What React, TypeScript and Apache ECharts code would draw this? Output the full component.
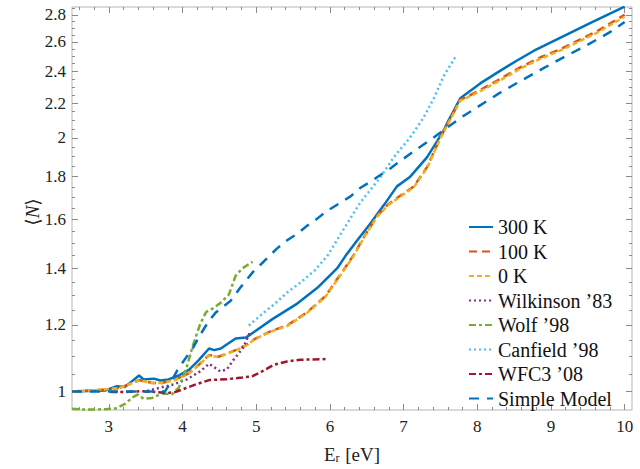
import React, { useEffect, useRef } from "react";
import * as echarts from "echarts";

// ---- tick labels ----
const xMajorTicks = [3, 4, 5, 6, 7, 8, 9, 10];
const xMinorTicks = [2.6, 2.8, 3.2, 3.4, 3.6, 3.8, 4.2, 4.4, 4.6, 4.8, 5.2, 5.4, 5.6, 5.8, 6.2, 6.4, 6.6, 6.8, 7.2, 7.4, 7.6, 7.8, 8.2, 8.4, 8.6, 8.8, 9.2, 9.4, 9.6, 9.8];
const yMajorTicks = [1, 1.2, 1.4, 1.6, 1.8, 2, 2.2, 2.4, 2.6, 2.8];
const yMinorTicks = [1.05, 1.1, 1.15, 1.25, 1.3, 1.35, 1.45, 1.5, 1.55, 1.65, 1.7, 1.75, 1.85, 1.9, 1.95, 2.05, 2.1, 2.15, 2.25, 2.3, 2.35, 2.45, 2.5, 2.55, 2.65, 2.7, 2.75, 2.85];

// ---- series (E_r [eV], <N>) ----
const k300: [number, number][] = [
  [2.5, 1.0], [2.95, 1.003], [3.11, 1.015], [3.22, 1.013], [3.41, 1.045], [3.47, 1.034], [3.61, 1.036], [3.70, 1.031],
  [3.81, 1.034], [3.95, 1.045], [4.09, 1.062], [4.22, 1.090], [4.36, 1.125], [4.43, 1.120], [4.52, 1.125], [4.72, 1.156],
  [4.86, 1.159], [4.97, 1.177], [5.22, 1.219], [5.54, 1.269], [5.83, 1.328], [6.10, 1.401], [6.21, 1.448], [6.38, 1.515],
  [6.56, 1.587], [6.74, 1.668], [6.91, 1.752], [7.09, 1.799], [7.32, 1.898], [7.46, 1.985], [7.55, 2.045], [7.60, 2.09],
  [7.77, 2.229], [8.04, 2.321], [8.32, 2.405], [8.54, 2.471], [8.77, 2.538], [9.04, 2.607], [9.31, 2.678], [9.58, 2.750],
  [10.0, 2.863],
];
const k100: [number, number][] = [
  [2.5, 1.0], [2.95, 1.006], [3.15, 1.010], [3.41, 1.032], [3.59, 1.024], [3.72, 1.024], [3.90, 1.033], [4.09, 1.052],
  [4.22, 1.076], [4.36, 1.105], [4.49, 1.100], [4.72, 1.120], [4.86, 1.135], [4.99, 1.156], [5.22, 1.182], [5.42, 1.198],
  [5.69, 1.242], [5.94, 1.298], [6.10, 1.360], [6.32, 1.451], [6.47, 1.530], [6.64, 1.616], [6.78, 1.665], [6.91, 1.697],
  [7.14, 1.752], [7.32, 1.848], [7.50, 2.003], [7.64, 2.113], [7.77, 2.219], [7.91, 2.249], [8.04, 2.280], [8.32, 2.352],
  [8.59, 2.427], [8.86, 2.493], [9.13, 2.549], [9.40, 2.618], [9.63, 2.678], [10.0, 2.800],
];
const k0: [number, number][] = [
  [2.5, 1.0], [2.95, 1.006], [3.15, 1.010], [3.41, 1.031], [3.59, 1.024], [3.72, 1.024], [3.90, 1.032], [4.09, 1.051],
  [4.22, 1.075], [4.36, 1.104], [4.49, 1.099], [4.72, 1.119], [4.86, 1.134], [4.99, 1.155], [5.22, 1.180], [5.42, 1.196],
  [5.69, 1.240], [5.94, 1.296], [6.10, 1.357], [6.32, 1.448], [6.47, 1.527], [6.64, 1.612], [6.78, 1.661], [6.91, 1.693],
  [7.14, 1.748], [7.32, 1.843], [7.50, 1.998], [7.64, 2.108], [7.77, 2.214], [7.91, 2.243], [8.04, 2.272], [8.32, 2.343],
  [8.59, 2.418], [8.86, 2.483], [9.13, 2.540], [9.40, 2.607], [9.63, 2.667], [10.0, 2.785],
];
const wilkinson83: [number, number][] = [
  [3.52, 1.002], [3.70, 1.011], [3.88, 1.020], [4.06, 1.034], [4.24, 1.057], [4.36, 1.079], [4.45, 1.066], [4.51, 1.057],
  [4.60, 1.062], [4.69, 1.090], [4.83, 1.130], [4.92, 1.180],
];
const wolf98: [number, number][] = [
  [2.5, 0.954], [2.69, 0.952], [2.95, 0.953], [3.09, 0.955], [3.22, 0.967], [3.32, 0.984], [3.39, 0.992], [3.47, 0.981],
  [3.59, 0.983], [3.72, 0.995], [3.86, 0.993], [3.95, 1.011], [4.05, 1.064], [4.14, 1.134], [4.24, 1.203], [4.32, 1.243],
  [4.42, 1.256], [4.51, 1.273], [4.63, 1.304], [4.72, 1.372], [4.81, 1.400], [4.95, 1.426],
];
const canfield98: [number, number][] = [
  [4.90, 1.198], [5.08, 1.236], [5.26, 1.273], [5.42, 1.311], [5.60, 1.347], [5.80, 1.394], [5.97, 1.451], [6.19, 1.560],
  [6.41, 1.675], [6.69, 1.799], [6.87, 1.898], [7.09, 2.003], [7.27, 2.113], [7.41, 2.229], [7.55, 2.373], [7.70, 2.493],
];
const wfc3_08: [number, number][] = [
  [3.02, 0.999], [3.22, 0.999], [3.42, 1.001], [3.63, 0.999], [3.80, 0.996], [3.90, 0.999], [4.00, 1.006], [4.18, 1.020],
  [4.36, 1.032], [4.58, 1.034], [4.81, 1.039], [4.95, 1.043], [5.08, 1.057], [5.24, 1.076], [5.42, 1.086], [5.60, 1.091],
  [5.96, 1.093],
];
const simpleModel: [number, number][] = [
  [2.5, 1.0], [3.76, 1.0], [3.85, 1.029], [3.94, 1.064], [4.15, 1.130], [4.24, 1.168], [4.36, 1.214], [4.45, 1.241],
  [4.65, 1.281], [4.78, 1.327], [4.96, 1.388], [5.10, 1.426], [5.28, 1.478], [5.42, 1.512], [5.55, 1.538], [5.69, 1.573],
  [5.82, 1.602], [5.96, 1.638], [6.14, 1.675], [6.28, 1.705], [6.41, 1.744], [6.55, 1.774], [6.68, 1.806], [6.82, 1.840],
  [7.0, 1.890], [7.2, 1.945], [7.4, 2.000], [7.6, 2.060], [7.8, 2.120], [8.0, 2.175], [8.3, 2.260], [8.6, 2.340],
  [8.9, 2.420], [9.2, 2.500], [9.5, 2.580], [9.8, 2.670], [10.0, 2.745],
];

const seriesNames = ["300 K", "100 K", "0 K", "Wilkinson \u201983", "Wolf \u201998", "Canfield \u201998", "WFC3 \u201908", "Simple Model"];
const seriesData = [k300, k100, k0, wilkinson83, wolf98, canfield98, wfc3_08, simpleModel];
const seriesColors = ["#0072BD", "#D95319", "#EDB120", "#7E2F8E", "#77AC30", "#4DBEEE", "#A2142F", "#0072BD"];
const seriesDash: any[] = ["solid", [8, 5], [5, 3], [2, 3], [7, 3, 3, 3], [2, 3], [7, 3, 3, 3], [10, 8]];

const X_MIN = 2.5;
const X_MAX = 10.1;
const Y_MIN = 0.951;
const Y_MAX = 2.86;

const SERIF = "Liberation Serif, DejaVu Serif, serif";
const lg = (v: number) => Math.log10(v);

export default function App() {
  const ref = useRef<HTMLDivElement>(null);
  useEffect(() => {
    document.body.style.margin = "0";
    if (!ref.current) return;
    const chart = echarts.init(ref.current, undefined, { renderer: "svg" });

    const tickColor = "#8a8a8a";
    const mkX = (position: string, values: number[], major: boolean, labels: boolean): any => ({
      type: "value",
      position,
      min: X_MIN,
      max: X_MAX,
      axisLine: { show: false, onZero: false },
      splitLine: { show: false },
      axisTick: { show: true, inside: true, length: major ? 6 : 3, customValues: values, lineStyle: { color: tickColor, width: 1 } },
      axisLabel: labels
        ? { show: true, customValues: values, margin: 8, color: "#222", fontSize: 17, fontFamily: SERIF, formatter: (v: number) => String(Math.round(v)) }
        : { show: false },
    });
    const yFmt = (v: number) => {
      const r = Math.round(Math.pow(10, v) * 10) / 10;
      return Number.isInteger(r) ? String(r) : r.toFixed(1);
    };
    const mkY = (position: string, values: number[], major: boolean, labels: boolean): any => ({
      type: "value",
      position,
      min: lg(Y_MIN),
      max: lg(Y_MAX),
      axisLine: { show: false, onZero: false },
      splitLine: { show: false },
      axisTick: { show: true, inside: true, length: major ? 6 : 3, customValues: values.map(lg), lineStyle: { color: tickColor, width: 1 } },
      axisLabel: labels
        ? { show: true, customValues: values.map(lg), margin: 6, color: "#222", fontSize: 17, fontFamily: SERIF, formatter: yFmt }
        : { show: false },
    });

    const xAxes = [
      { ...mkX("bottom", xMajorTicks, true, true),
        name: "E{sub|r} [eV]", nameLocation: "middle", nameGap: 34,
        nameTextStyle: { color: "#222", fontSize: 19, fontFamily: SERIF, rich: { sub: { fontSize: 12, fontFamily: SERIF, color: "#222", verticalAlign: "bottom", padding: [8, 1, 0, 0] } } } },
      mkX("bottom", xMinorTicks, false, false),
      mkX("top", xMajorTicks, true, false),
      mkX("top", xMinorTicks, false, false),
    ];
    const yAxes = [
      mkY("left", yMajorTicks, true, true),
      mkY("left", yMinorTicks, false, false),
      mkY("right", yMajorTicks, true, false),
      mkY("right", yMinorTicks, false, false),
    ];

    const series = seriesNames.map((name, i) => ({
      name,
      type: "line",
      xAxisIndex: 0,
      yAxisIndex: 0,
      showSymbol: false,
      symbol: "none",
      clip: true,
      lineStyle: { color: seriesColors[i], width: 2.5, type: seriesDash[i] },
      itemStyle: { color: seriesColors[i] },
      data: seriesData[i].map(([x, y]) => [x, lg(y)]),
    }));

    chart.setOption({
      animation: false,
      textStyle: { fontFamily: SERIF },
      grid: { left: 72, right: 8, top: 7, bottom: 51, show: true, borderColor: "#b5b5b5", borderWidth: 1, containLabel: false },
      xAxis: xAxes,
      yAxis: yAxes,
      graphic: [
        {
          type: "text",
          x: 32,
          y: 212,
          rotation: Math.PI / 2,
          style: {
            text: "\u27E8{i|N}\u27E9",
            fill: "#222",
            fontSize: 19,
            fontFamily: SERIF,
            align: "center",
            verticalAlign: "middle",
            rich: { i: { fontSize: 19, fontStyle: "italic", fontFamily: SERIF, fill: "#222" } },
          },
        },
      ],
      legend: {
        data: seriesNames,
        orient: "vertical",
        left: 463,
        top: 212,
        itemWidth: 24,
        itemHeight: 14,
        itemGap: 4.5,
        itemStyle: { opacity: 0, borderWidth: 0 },
        textStyle: { color: "#111", fontSize: 20, fontFamily: SERIF, lineHeight: 20 },
      },
      series,
    });
    return () => chart.dispose();
  }, []);
  return <div ref={ref} style={{ width: 640, height: 469 }} />;
}
